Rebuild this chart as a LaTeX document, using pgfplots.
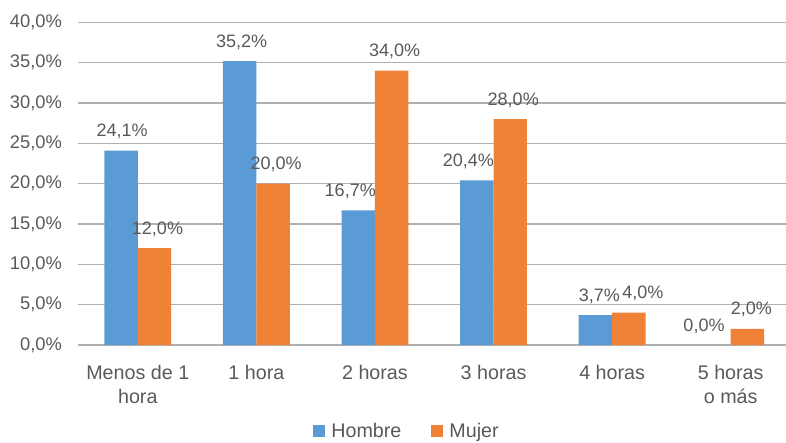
\documentclass[border=0pt]{standalone}
\usepackage{pgfplots}
\pgfplotsset{compat=1.18}
\usepackage{pgfplotstable}
\usepackage{fontspec}
\setmainfont{Liberation Sans}
\usetikzlibrary{calc}
\definecolor{cblue}{HTML}{5B9BD5}
\definecolor{corange}{HTML}{F08238}
\definecolor{ctext}{HTML}{595959}
\definecolor{cgrid}{HTML}{B0B0B0}
\pgfplotstableread{
x h dh m dm
0 24.1 1 12.0 3
1 35.2 2 20.0 3
2 16.7 -8 34.0 3
3 20.4 -8.5 28.0 3
4 3.7 4 4.0 14
5 0.0 -10 2.0 4
}\datatab
\begin{document}
\begin{tikzpicture}
\begin{axis}[
  name=ax,
  scale only axis,
  width=711.5pt, height=322.7pt,
  xmin=-0.5, xmax=5.5,
  ymin=0, ymax=40,
  ybar=0pt, bar width=33.4pt,
  /pgf/number format/assume math mode=true,
  axis line style={draw=none},
  major tick length=0pt,
  ymajorgrids,
  grid style={cgrid, line width=1.3pt},
  ytick={0,5,...,40},
  yticklabel={\pgfmathprintnumber[fixed,fixed zerofill,precision=1,use comma,assume math mode=true]{\tick}\%},
  yticklabel style={inner sep=0pt, xshift=-16.5pt, text=ctext, font=\fontsize{18.3}{22}\selectfont},
  xtick={0,...,5},
  xticklabels={{Menos de 1\\hora},{1 hora},{2 horas},{3 horas},{4 horas},{5 horas\\o más}},
  xticklabel style={inner sep=0pt, yshift=-20pt, text=ctext, align=center, font=\fontsize{19.7}{24}\selectfont},
  nodes near coords={\pgfmathprintnumber[fixed,fixed zerofill,precision=1,use comma,assume math mode=true]{\pgfplotspointmeta}\%},
  every node near coord/.append style={anchor=base, inner sep=0pt, yshift=14pt, xshift=\dx pt, text=ctext, font=\fontsize{18}{22}\selectfont},
  legend columns=2,
  legend style={draw=none, fill=none, at={(axis description cs:0.4645,-0.268)}, anchor=center,
    font=\fontsize{19.7}{24}\selectfont, text=ctext,
    /tikz/every even column/.append style={column sep=24pt},
    /tikz/every odd column/.append style={column sep=0pt},
    nodes={inner xsep=6pt, inner ysep=0pt}},
  clip=false,
]
\addplot[fill=cblue, draw=none, visualization depends on={\thisrow{dh} \as \dx},
  legend image code/.code={\fill[cblue] (0pt,-6pt) rectangle (12pt,6pt);}]
  table[x=x, y=h] {\datatab};
\addlegendentry{Hombre}
\addplot[fill=corange, draw=none, visualization depends on={\thisrow{dm} \as \dx},
  legend image code/.code={\fill[corange] (0pt,-6pt) rectangle (12pt,6pt);}]
  table[x=x, y=m] {\datatab};
\addlegendentry{Mujer}
\end{axis}
\pgfresetboundingbox
\path[use as bounding box] ($(ax.south west)+(-78.5pt,-97pt)$) rectangle ($(ax.south west)+(707.5pt,345pt)$);
\end{tikzpicture}
\end{document}
